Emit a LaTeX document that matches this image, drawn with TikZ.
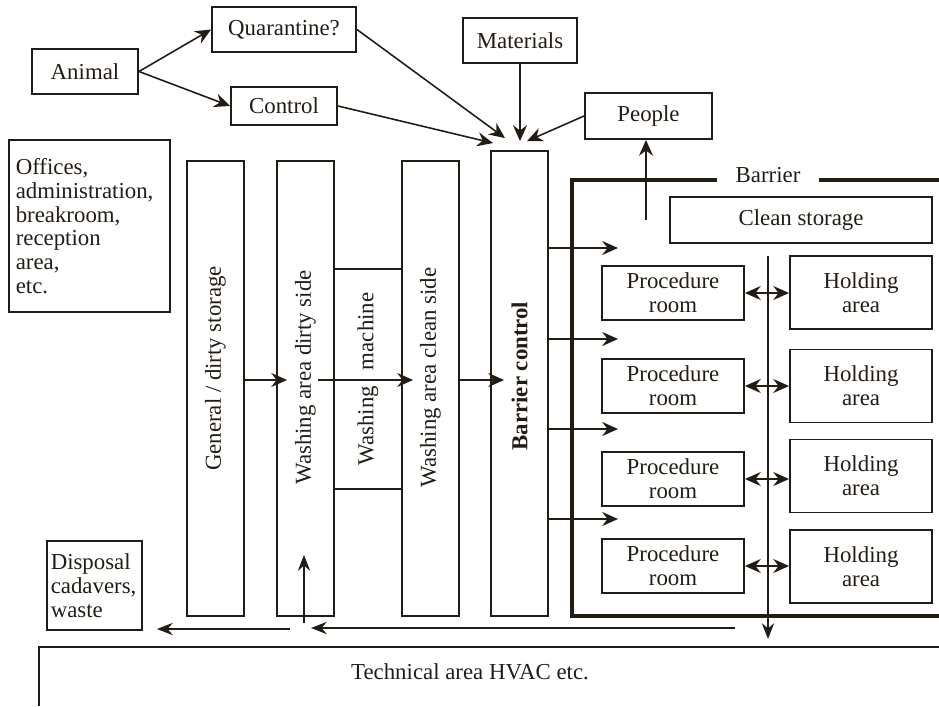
\documentclass[tikz,border=0pt]{standalone}
\usepackage{fontspec}
\setmainfont{Liberation Serif}
\usepackage{graphicx}
\usetikzlibrary{arrows.meta, positioning}
\definecolor{ink}{HTML}{231C14}
\tikzstyle{box} = [rectangle, draw=ink, line width=1.1pt, inner sep=2pt,
text centered, align=center]
\tikzstyle{column} = [box, minimum width=1.14cm, minimum height=9.1cm]
\tikzstyle{proc} = [box, minimum width=2.84cm, minimum height=1.08cm]
\tikzstyle{hold} = [box, minimum width=2.84cm, minimum height=1.46cm]
\tikzstyle{arrow} = [draw=ink, line width=0.9pt,
-{Stealth[length=9pt, width=8pt, inset=3pt]}]
\tikzstyle{thinarrow} = [draw=ink, line width=0.6pt,
-{Stealth[length=9pt, width=7pt, inset=3pt]}]
\tikzstyle{dblarrow} = [draw=ink, line width=0.8pt,
{Stealth[length=9pt, width=8pt, inset=3pt]}-{Stealth[length=9pt, width=8pt, inset=3pt]}]
\tikzstyle{barrier} = [draw=ink, line width=1.8pt]

\begin{document}
\begin{tikzpicture}[x=0.02cm, y=-0.02cm, text=ink,
font=\fontsize{13}{13.5}\selectfont]
\useasboundingbox (0,0) rectangle (939,706);

% entry side
\node(animal)[box, minimum width=2.12cm, minimum height=0.9cm] at (85,71.5){Animal};
\node(quar)[box, minimum width=2.88cm, minimum height=0.9cm] at (284,29.5){Quarantine?};
\node(ctrl)[box, minimum width=2.12cm, minimum height=0.76cm] at (284,106){Control};
\node(mat)[box, minimum width=2.28cm, minimum height=0.9cm] at (520,40.5){Materials};
\node(people)[box, minimum width=2.54cm, minimum height=0.92cm] at (648.5,116){People};
\node(office)[box, minimum width=3.22cm, minimum height=3.44cm, text width=2.95cm,
align=left] at (89.5,226){Offices,\\administration,\\breakroom,\\reception\\area,\\etc.};

% columns
\node(gen)[column] at (215.5,388.5){\rotatebox{90}{\hspace*{0.8cm}General / dirty storage}};
\node(dirty)[column] at (305.5,388.5){\rotatebox{90}{\hspace*{0.44cm}Washing area dirty side}};
\node(machine)[box, minimum width=1.36cm, minimum height=4.4cm] at (368,379)
{\rotatebox{90}{Washing\hspace{0.7em}machine}};
\node(clean)[column] at (430.5,388.5){\rotatebox{90}{\hspace*{0.44cm}Washing area clean side}};
\node(bctrl)[column, minimum height=9.3cm] at (519.5,383.5)
{\rotatebox{90}{\hspace*{0.3cm}\textbf{Barrier control}}};

% barrier area
\node(cstore)[box, minimum width=5.24cm, minimum height=0.92cm] at (801,220){Clean storage};
\node(proc1)[proc] at (673,293){Procedure\\room};
\node(proc2)[proc] at (673,386){Procedure\\room};
\node(proc3)[proc] at (673,479){Procedure\\room};
\node(proc4)[proc] at (673,566){Procedure\\room};
\node(hold1)[hold] at (861,292.5){Holding\\area};
\node(hold2)[hold] at (861,386){Holding\\area};
\node(hold3)[hold] at (861,476){Holding\\area};
\node(hold4)[hold] at (861,566.5){Holding\\area};
\node(barlbl) at (768,175){Barrier};

\node(disp)[box, minimum width=1.9cm, minimum height=1.78cm, text width=1.75cm,
align=left] at (94.5,585.5){Disposal\\cadavers,\\waste};
\node(tech) at (470,672){Technical area HVAC etc.};

\coordinate(inQ) at ([xshift=-0.29cm, yshift=0.24cm]bctrl.north);
\coordinate(inC) at ([xshift=-0.53cm, yshift=0.14cm]bctrl.north);
\coordinate(inM) at ([yshift=0.18cm]bctrl.north);
\coordinate(inP) at ([xshift=0.15cm, yshift=0.18cm]bctrl.north);
\coordinate(pplfoot) at (646,220);
\coordinate(washin) at (318,380);
\coordinate(corrtop) at (768,256);
\coordinate(corrbot) at (768,639);
\coordinate(ret1) at (735,628);
\coordinate(ret2) at (311,628);
\coordinate(ret3) at (290,629);
\coordinate(ret4) at (157,629);
\coordinate(up1) at (304,623);
\coordinate(up2) at (304,555);

% barrier walls
\draw[barrier]([xshift=-0.24cm]barlbl.west |- 0,180) -- (572,180) -- (572,616) -- (939,616);
\draw[barrier]([xshift=0.24cm]barlbl.east |- 0,180) -- (939,180);
\draw[draw=ink, line width=1.1pt](39,706) -- (39,647) -- (939,647);

\draw[arrow](animal.east) -- (quar.west);
\draw[arrow](animal.east) -- (ctrl.west);
\draw[arrow](quar.east) -- (inQ);
\draw[arrow](ctrl.east) -- (inC);
\draw[arrow](mat) -- (mat |- inM);
\draw[arrow](people.west) -- (inP);
\draw[arrow](pplfoot) -- (pplfoot |- people.south);

\draw[arrow, shorten >=-0.22cm](gen.east |- washin) -- (dirty.west |- washin);
\draw[arrow, shorten >=-0.24cm](washin) -- (clean.west |- washin);
\draw[arrow, shorten >=-0.28cm](clean.east |- washin) -- (bctrl.west |- washin);

\foreach \y in {248,339,429,519}
  \draw[arrow](bctrl.east |- 0,\y) -- (618,\y);
\foreach \i in {1,...,4}
  \draw[dblarrow](proc\i.east) -- (hold\i.west |- proc\i.east);

\draw[thinarrow](corrtop) -- (corrbot);
\draw[thinarrow](ret1) -- (ret2);
\draw[thinarrow](ret3) -- (ret4);
\draw[thinarrow](up1) -- (up2);

\end{tikzpicture}
\end{document}
